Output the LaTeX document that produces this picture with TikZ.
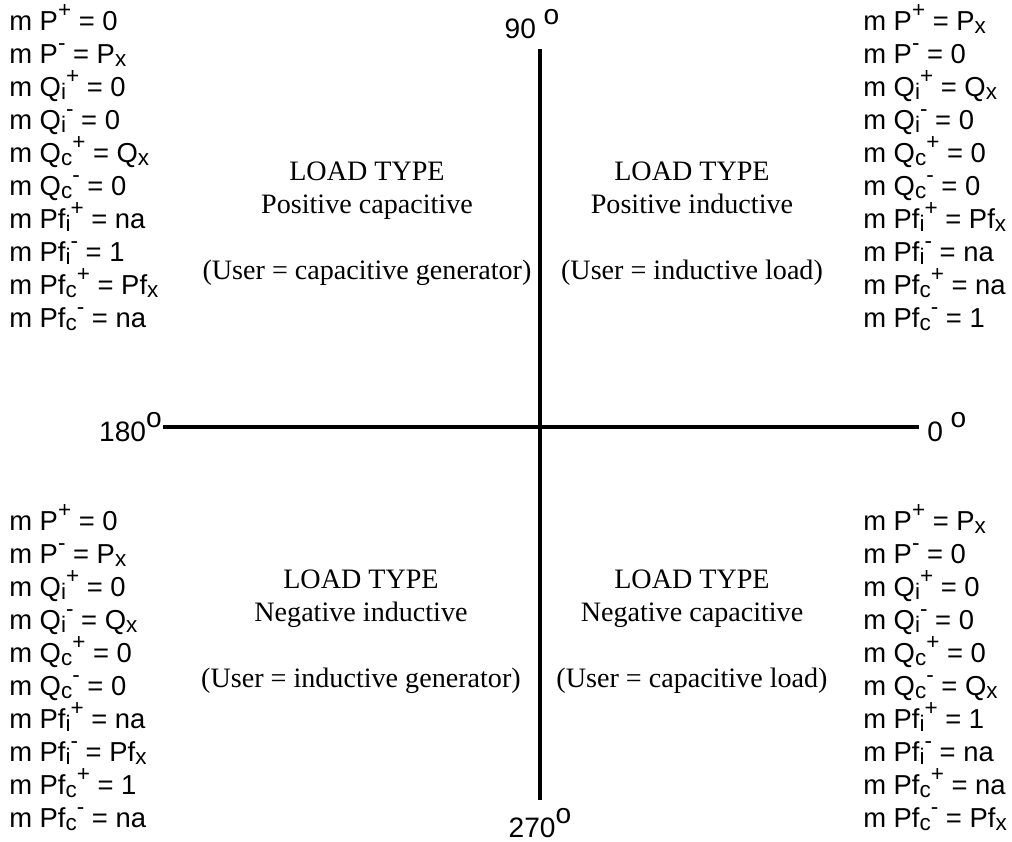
\documentclass[tikz,border=0pt]{standalone}
\usepackage{fontspec}
\setmainfont{Liberation Serif}
\setsansfont{Liberation Sans}
\usepackage{tikz}
\newcommand{\supx}[1]{\raisebox{9.5pt}{\fontsize{16}{16}\selectfont #1}}
\newcommand{\subx}[1]{\raisebox{-2pt}{\fontsize{16}{16}\selectfont #1}}
\newcommand{\degr}{\raisebox{10pt}{o}}
\begin{document}
\begin{tikzpicture}[axis/.style={line width=0.1cm},
  quantities/.style={font=\sffamily\fontsize{19.5}{23.5}\selectfont,align=left,inner sep=0,anchor=base west},
  loadtype/.style={font=\fontsize{20}{23.5}\selectfont,align=center,inner sep=0,anchor=base},
  deg/.style={font=\sffamily\fontsize{20}{23.5}\selectfont,inner sep=0}]
\useasboundingbox (-13.5,-10.375) rectangle (11.8,10.675);
\coordinate (west) at (-9.425,0);
\coordinate (east) at (9.475,0);
\coordinate (north) at (0,9.45);
\coordinate (south) at (0,-9.325);
\draw[axis] (west) -- (east);
\draw[axis] (north) -- (south);
\node[deg,above=0.25cm,xshift=-0.2cm] (d90) at (north) {90 \degr};
\node[deg,left=0.025cm] (d180) at (west) {180\degr};
\node[deg,right=0.2cm] (d0) at (east) {0 \degr};
\node[deg,below=0.2cm] (d270) at (south) {270\degr};
% quadrant II
\node[quantities] (qUL) at (-13.275,2.475) {m P\supx{+} = 0\\ m P\supx{-} = P\subx{x}\\ m Q\subx{i}\supx{+} = 0\\ m Q\subx{i}\supx{-} = 0\\ m Q\subx{c}\supx{+} = Q\subx{x}\\ m Q\subx{c}\supx{-} = 0\\ m Pf\subx{i}\supx{+} = na\\ m Pf\subx{i}\supx{-} = 1\\ m Pf\subx{c}\supx{+} = Pf\subx{x}\\ m Pf\subx{c}\supx{-} = na};
\node[loadtype] (tUL) at (-4.325,3.675) {LOAD TYPE\\ Positive capacitive\\[23.5pt] (User = capacitive generator)};
% quadrant I
\node[quantities] (qUR) at (8.075,2.475) {m P\supx{+} = P\subx{x}\\ m P\supx{-} = 0\\ m Q\subx{i}\supx{+} = Q\subx{x}\\ m Q\subx{i}\supx{-} = 0\\ m Q\subx{c}\supx{+} = 0\\ m Q\subx{c}\supx{-} = 0\\ m Pf\subx{i}\supx{+} = Pf\subx{x}\\ m Pf\subx{i}\supx{-} = na\\ m Pf\subx{c}\supx{+} = na\\ m Pf\subx{c}\supx{-} = 1};
\node[loadtype] (tUR) at (3.8,3.675) {LOAD TYPE\\ Positive inductive\\[23.5pt] (User = inductive load)};
% quadrant III
\node[quantities] (qLL) at (-13.275,-10.025) {m P\supx{+} = 0\\ m P\supx{-} = P\subx{x}\\ m Q\subx{i}\supx{+} = 0\\ m Q\subx{i}\supx{-} = Q\subx{x}\\ m Q\subx{c}\supx{+} = 0\\ m Q\subx{c}\supx{-} = 0\\ m Pf\subx{i}\supx{+} = na\\ m Pf\subx{i}\supx{-} = Pf\subx{x}\\ m Pf\subx{c}\supx{+} = 1\\ m Pf\subx{c}\supx{-} = na};
\node[loadtype] (tLL) at (-4.475,-6.525) {LOAD TYPE\\ Negative inductive\\[23.5pt] (User = inductive generator)};
% quadrant IV
\node[quantities] (qLR) at (8.075,-10.025) {m P\supx{+} = P\subx{x}\\ m P\supx{-} = 0\\ m Q\subx{i}\supx{+} = 0\\ m Q\subx{i}\supx{-} = 0\\ m Q\subx{c}\supx{+} = 0\\ m Q\subx{c}\supx{-} = Q\subx{x}\\ m Pf\subx{i}\supx{+} = 1\\ m Pf\subx{i}\supx{-} = na\\ m Pf\subx{c}\supx{+} = na\\ m Pf\subx{c}\supx{-} = Pf\subx{x}};
\node[loadtype] (tLR) at (3.8,-6.525) {LOAD TYPE\\ Negative capacitive\\[23.5pt] (User = capacitive load)};
\end{tikzpicture}
\end{document}
